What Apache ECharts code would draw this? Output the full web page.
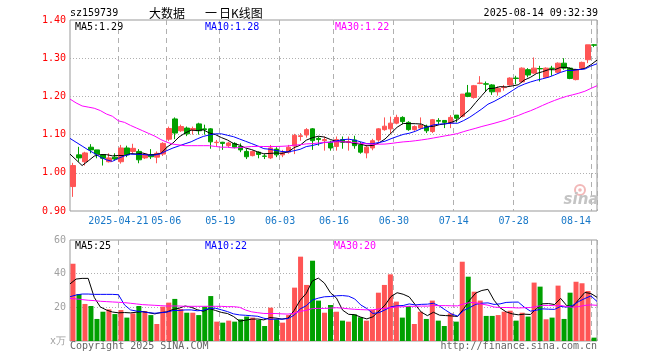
<!DOCTYPE html>
<html><head><meta charset="utf-8">
<script src="https://cdn.jsdelivr.net/npm/echarts@6/dist/echarts.min.js"></script>
<style>html,body{margin:0;padding:0;background:#fff}#c{width:660px;height:360px}</style>
</head><body><div id="c"></div>
<script>
const dates = [
'2025-04-09','2025-04-10','2025-04-11','2025-04-14','2025-04-15','2025-04-16','2025-04-17','2025-04-18','2025-04-21','2025-04-22',
'2025-04-23','2025-04-24','2025-04-25','2025-04-28','2025-04-29','2025-04-30','2025-05-06','2025-05-07','2025-05-08','2025-05-09',
'2025-05-12','2025-05-13','2025-05-14','2025-05-15','2025-05-16','2025-05-19','2025-05-20','2025-05-21','2025-05-22','2025-05-23',
'2025-05-26','2025-05-27','2025-05-28','2025-05-29','2025-05-30','2025-06-03','2025-06-04','2025-06-05','2025-06-06','2025-06-09',
'2025-06-10','2025-06-11','2025-06-12','2025-06-13','2025-06-16','2025-06-17','2025-06-18','2025-06-19','2025-06-20','2025-06-23',
'2025-06-24','2025-06-25','2025-06-26','2025-06-27','2025-06-30','2025-07-01','2025-07-02','2025-07-03','2025-07-04','2025-07-07',
'2025-07-08','2025-07-09','2025-07-10','2025-07-11','2025-07-14','2025-07-15','2025-07-16','2025-07-17','2025-07-18','2025-07-21',
'2025-07-22','2025-07-23','2025-07-24','2025-07-25','2025-07-28','2025-07-29','2025-07-30','2025-07-31','2025-08-01','2025-08-04',
'2025-08-05','2025-08-06','2025-08-07','2025-08-08','2025-08-11','2025-08-12','2025-08-13','2025-08-14'];

const opens = [0.964,1.047,1.029,1.067,1.060,1.047,1.029,1.041,1.029,1.065,
1.056,1.056,1.039,1.047,1.041,1.049,1.088,1.141,1.110,1.117,
1.112,1.128,1.115,1.115,1.079,1.080,1.071,1.077,1.069,1.056,
1.045,1.054,1.044,1.039,1.062,1.047,1.054,1.070,1.095,1.099,
1.115,1.090,1.084,1.080,1.069,1.087,1.080,1.086,1.073,1.052,
1.065,1.086,1.113,1.115,1.130,1.145,1.132,1.113,1.117,1.122,
1.108,1.137,1.137,1.130,1.151,1.148,1.209,1.197,1.234,1.233,
1.230,1.212,1.223,1.230,1.248,1.238,1.270,1.261,1.273,1.250,
1.274,1.263,1.287,1.274,1.244,1.274,1.296,1.335];
const closes = [1.019,1.039,1.052,1.060,1.049,1.038,1.039,1.036,1.065,1.047,
1.064,1.034,1.049,1.042,1.051,1.077,1.116,1.104,1.121,1.102,
1.116,1.110,1.113,1.081,1.080,1.077,1.078,1.067,1.060,1.042,
1.056,1.048,1.043,1.065,1.047,1.052,1.067,1.098,1.097,1.113,
1.084,1.087,1.087,1.065,1.087,1.080,1.082,1.071,1.054,1.067,
1.084,1.115,1.122,1.130,1.145,1.134,1.113,1.121,1.125,1.110,
1.139,1.135,1.132,1.145,1.143,1.206,1.200,1.228,1.235,1.232,
1.212,1.221,1.224,1.248,1.247,1.274,1.256,1.274,1.272,1.274,
1.273,1.287,1.274,1.247,1.270,1.289,1.335,1.334];
const lows = [0.937,1.029,1.019,1.051,1.038,1.019,1.027,1.032,1.024,1.041,
1.050,1.025,1.036,1.036,1.025,1.044,1.083,1.088,1.107,1.096,
1.100,1.100,1.100,1.063,1.069,1.060,1.066,1.064,1.054,1.036,
1.043,1.038,1.036,1.036,1.041,1.041,1.050,1.049,1.084,1.092,
1.060,1.071,1.058,1.058,1.058,1.063,1.058,1.063,1.050,1.038,
1.059,1.081,1.110,1.102,1.127,1.127,1.110,1.110,1.114,1.104,
1.104,1.127,1.117,1.117,1.132,1.145,1.198,1.194,1.232,1.212,
1.204,1.202,1.215,1.228,1.232,1.236,1.250,1.259,1.239,1.248,
1.254,1.261,1.270,1.245,1.242,1.270,1.287,1.329];
const highs = [1.026,1.068,1.055,1.075,1.060,1.048,1.051,1.051,1.073,1.071,
1.076,1.062,1.051,1.062,1.056,1.080,1.121,1.145,1.126,1.121,
1.121,1.131,1.126,1.117,1.086,1.081,1.081,1.080,1.077,1.062,
1.058,1.056,1.049,1.073,1.067,1.060,1.073,1.102,1.104,1.117,
1.117,1.095,1.095,1.084,1.095,1.095,1.095,1.097,1.081,1.073,
1.089,1.117,1.145,1.147,1.152,1.148,1.135,1.124,1.145,1.126,
1.141,1.143,1.137,1.151,1.151,1.206,1.230,1.230,1.253,1.239,
1.232,1.226,1.230,1.250,1.254,1.276,1.274,1.302,1.280,1.276,
1.280,1.289,1.300,1.276,1.272,1.291,1.335,1.337];
const volumes = [45.9,27.9,22.0,20.8,13.1,17.4,18.8,16.0,18.4,13.9,
16.4,20.8,17.8,15.4,10.1,20.4,22.8,25.0,19.0,16.8,
16.8,15.4,20.4,26.7,11.5,10.9,12.1,11.5,12.9,14.5,
13.9,12.5,8.9,19.8,12.9,10.9,15.4,31.7,50.1,33.3,
47.7,24.0,16.8,21.4,17.4,12.1,11.5,15.8,14.1,12.1,
18.4,28.7,33.3,39.6,23.4,13.9,20.8,10.1,17.4,13.1,
24.0,12.1,8.9,16.4,11.5,47.1,38.2,29.3,24.0,14.9,
14.9,15.4,17.4,18.0,12.1,16.8,14.5,34.7,32.3,12.9,
13.9,32.9,13.1,28.7,35.2,34.3,29.7,2.0];

// moving-average values at the start of the window (their history lies before the chart)
const ma5Head = [1.049,1.034,1.019,1.031];
const ma10Head = [1.090,1.080,1.070,1.060,1.051,1.041,1.034,1.030,1.038];
const ma30Head = [1.193,1.183,1.175,1.172,1.169,1.163,1.154,1.148,1.136,1.132,1.124,1.117,1.110,1.103,1.096,1.087,1.080,1.075,1.073,1.071,1.071,1.071,1.071,1.071,1.069,1.067,1.067,1.065,1.066];
const vma5Head = [33.9,36.8,37.2,37.2];
const vma10Head = [26.3,27.3,27.9,27.9,27.7,27.7,27.7,27.7,27.5];
const vma30Head = [25.3,25.0,24.6,24.2,24.0,23.6,23.4,23.2,23.0,22.8,22.4,22.0,21.6,21.4,21.2,21.0,20.8,20.8,20.8,20.6,20.6,20.6,20.6,20.6,20.6,20.6,20.4,20.4,20.0];

const labelIdx = [8,16,25,35,44,54,64,74,87];
const volTicks = [0, 20, 40, 60];
const volTickLabels = ['x万', '20', '40', '60'];

function ma(arr, n, head) {
  return arr.map((v, i) => {
    if (i < head.length) return head[i];
    let s = 0; for (let k = i - n + 1; k <= i; k++) s += arr[k];
    return +(s / n).toFixed(4);
  });
}
const RED = '#ff5555', GREEN = '#00a000';
const FONT = 'DejaVu Sans Mono';
const kData = dates.map((d, i) => [opens[i], closes[i], lows[i], highs[i]]);
const volData = volumes.map((v, i) => ({ value: v, itemStyle: { color: closes[i] >= opens[i] ? RED : GREEN } }));

const chart = echarts.init(document.getElementById('c'));
const splitX = { show: true, interval: (i) => labelIdx.includes(i), lineStyle: { color: '#b0b0b0', type: [5, 4], width: 1 } };
const lineS = (name, data, color, xi, yi) => ({ name, type: 'line', data, xAxisIndex: xi, yAxisIndex: yi, showSymbol: false, symbol: 'none', lineStyle: { color, width: 1 }, silent: true });

function txt(x, y, text, color, size, align, family) {
  return { type: 'text', x, y, style: { text, fill: color, font: (size || 10) + 'px ' + (family || '"DejaVu Sans Mono"'), textAlign: align || 'left', textVerticalAlign: 'middle' } };
}

chart.setOption({
  animation: false,
  textStyle: { fontFamily: FONT },
  grid: [
    { left: 70, right: 63, top: 20, height: 191, show: true, borderColor: '#999', borderWidth: 1 },
    { left: 70, right: 63, top: 240, height: 101, show: true, borderColor: '#999', borderWidth: 1 }
  ],
  xAxis: [
    { type: 'category', gridIndex: 0, data: dates, boundaryGap: true,
      axisLine: { show: false }, axisTick: { show: false }, splitLine: splitX,
      axisLabel: { interval: (i) => labelIdx.includes(i), margin: 5, fontSize: 10, fontFamily: FONT, color: '#1878c8',
        formatter: (v, i) => i === 87 ? '{e|' + v.slice(5) + '}' : '{n|' + (i === 8 ? v : v.slice(5)) + '}',
        rich: { n: { padding: [0, 5, 0, 0], fontSize: 10, fontFamily: FONT, color: '#1878c8' },
                e: { padding: [0, 36, 0, 0], fontSize: 10, fontFamily: FONT, color: '#1878c8' } } } },
    { type: 'category', gridIndex: 0, data: dates, boundaryGap: false, show: false },
    { type: 'category', gridIndex: 1, data: dates, boundaryGap: true,
      axisLine: { show: false }, axisTick: { show: false }, axisLabel: { show: false }, splitLine: splitX },
    { type: 'category', gridIndex: 1, data: dates, boundaryGap: false, show: false }
  ],
  yAxis: [
    { type: 'value', gridIndex: 0, min: 0.9, max: 1.4, interval: 0.1,
      axisLine: { show: false }, axisTick: { show: false },
      axisLabel: { margin: 4, fontSize: 10, fontFamily: FONT, color: '#ff0000', formatter: (v) => v.toFixed(2), hideOverlap: false },
      splitLine: { show: true, showMinLine: false, showMaxLine: false, lineStyle: { color: '#b0b0b0', type: [1, 2] } } },
    { type: 'value', gridIndex: 1, min: 0, max: 60, interval: 20,
      axisLine: { show: false }, axisTick: { show: false }, axisLabel: { show: false },
      splitLine: { show: true, showMinLine: false, showMaxLine: false, lineStyle: { color: '#b0b0b0', type: [1, 2] } } }
  ],
  series: [
    { type: 'candlestick', xAxisIndex: 0, yAxisIndex: 0, data: kData, barWidth: 5,
      itemStyle: { color: RED, color0: GREEN, borderColor: RED, borderColor0: GREEN, borderWidth: 1 } },
    lineS('MA5', ma(closes, 5, ma5Head), '#000000', 1, 0),
    lineS('MA10', ma(closes, 10, ma10Head), '#0000ff', 1, 0),
    lineS('MA30', ma(closes, 30, ma30Head), '#ff00ff', 1, 0),
    { type: 'bar', xAxisIndex: 2, yAxisIndex: 1, data: volData, barWidth: 5 },
    lineS('VMA5', ma(volumes, 5, vma5Head), '#000000', 3, 1),
    lineS('VMA10', ma(volumes, 10, vma10Head), '#0000ff', 3, 1),
    lineS('VMA30', ma(volumes, 30, vma30Head), '#ff00ff', 3, 1)
  ]
});

// volume axis tick labels, positioned through the volume axis scale
const volLabels = volTicks.map((v, k) => txt(66, chart.convertToPixel({ yAxisIndex: 1 }, v), volTickLabels[k], '#a0a0a0', 10, 'right'));

chart.setOption({
  graphic: [
    txt(70, 13, 'sz159739', '#000', 10),
    txt(149, 13, '大数据', '#000', 12, 'left', '"Noto Sans CJK SC"'),
    txt(205, 13, '一', '#000', 12, 'left', '"Noto Sans CJK SC"'),
    txt(219, 13, '日K线图', '#000', 12, 'left', '"Noto Sans CJK SC"'),
    txt(598, 13, '2025-08-14 09:32:39', '#000', 10, 'right'),
    txt(75, 27, 'MA5:1.29', '#000', 10),
    txt(205, 27, 'MA10:1.28', '#0000ff', 10),
    txt(335, 27, 'MA30:1.22', '#ff00ff', 10),
    txt(75, 246, 'MA5:25', '#000', 10),
    txt(205, 246, 'MA10:22', '#0000ff', 10),
    txt(334, 246, 'MA30:20', '#ff00ff', 10),
    txt(70, 346, 'Copyright 2025 SINA.COM', '#666', 10),
    txt(597, 346, 'http://finance.sina.com.cn', '#666', 10, 'right'),
    ...volLabels,
    { type: 'circle', shape: { cx: 580, cy: 190, r: 5 }, style: { fill: 'none', stroke: '#f2b8b8', lineWidth: 2 } },
    { type: 'circle', shape: { cx: 580, cy: 190, r: 1.8 }, style: { fill: '#f2b8b8' } },
    { type: 'text', x: 581, y: 200, style: { text: 'sina', fill: '#c4c4c4', font: 'italic bold 15px "DejaVu Sans"', textAlign: 'center', textVerticalAlign: 'middle' } }
  ]
});
</script></body></html>
